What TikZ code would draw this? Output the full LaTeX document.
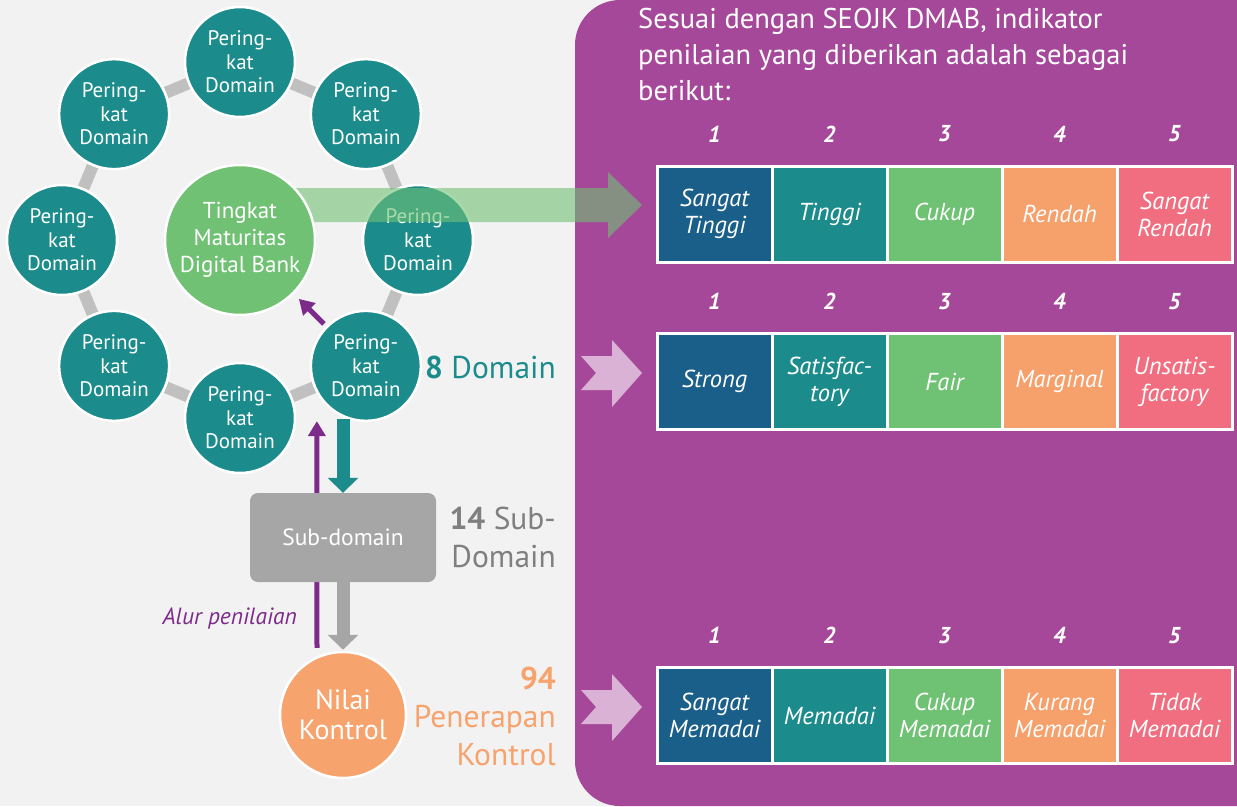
\documentclass[tikz,border=0pt]{standalone}
\usepackage{fontspec}
\setmainfont{PT Sans}
\usetikzlibrary{positioning,arrows.meta,backgrounds}

\definecolor{bggray}{HTML}{F2F2F2}
\definecolor{panelpurple}{HTML}{A64899}
\definecolor{dteal}{HTML}{1B8C8B}
\definecolor{dgreen}{HTML}{70C174}
\definecolor{nkorange}{HTML}{F6A36E}
\definecolor{subgray}{HTML}{A6A6A6}
\definecolor{ringgray}{HTML}{C0C0C0}
\definecolor{lblgray}{HTML}{7F7F7F}
\definecolor{flowpurple}{HTML}{7D2B8B}
\definecolor{chevpink}{HTML}{D9B2D6}
\definecolor{tabc1}{HTML}{1A5E8A}
\definecolor{tabc2}{HTML}{1B8C8B}
\definecolor{tabc3}{HTML}{6FC173}
\definecolor{tabc4}{HTML}{F6A06C}
\definecolor{tabc5}{HTML}{F06E80}

\tikzset{
ratingnode/.style={circle, fill=dteal, draw=white, line width=2.5pt, minimum size=110pt,
    inner sep=0pt, text=white, align=center, font=\fontsize{21}{23.5}\selectfont},
corenode/.style={circle, fill=dgreen, draw=white, line width=2.5pt, minimum size=150pt,
    inner sep=0pt, text=white, align=center, font=\fontsize{23}{27}\selectfont},
ctrlnode/.style={circle, fill=nkorange, draw=white, line width=2.5pt, minimum size=126pt,
    inner sep=0pt, text=white, align=center, font=\fontsize{28}{30}\selectfont},
subbox/.style={rectangle, rounded corners=8pt, fill=subgray, minimum width=186pt,
    minimum height=89pt, text=white, font=\fontsize{23.5}{26}\selectfont},
scalecell/.style={draw=white, line width=3pt, minimum width=115pt, minimum height=96pt,
    inner sep=0pt, text=white, align=center, font=\fontsize{24.5}{27}\selectfont\itshape},
numtxt/.style={inner sep=0pt, text=white, font=\fontsize{23}{26}\selectfont\bfseries\itshape},
cntlbl/.style={inner sep=0pt, align=right, font=\fontsize{31.5}{38}\selectfont},
headtxt/.style={inner sep=0pt, text=white, align=left, font=\fontsize{28.5}{36}\selectfont},
ringlink/.style={draw=ringgray, line width=12pt},
growarrow/.style={fill=dgreen, fill opacity=0.6},
rollup/.style={draw=flowpurple, line width=5pt, -{Triangle[width=17pt,length=15pt]}},
flowdown/.style={line width=13pt, -{Triangle[width=30pt,length=15pt]}},
chevron/.pic={\fill[chevpink] (0,-33) -- (30,0) -- (0,34) -- (0,17) -- (-31,17)
    -- (-16,0) -- (-31,-17) -- (0,-17) -- cycle;}
}

\begin{document}
\begin{tikzpicture}[x=1pt, y=-1pt]
\useasboundingbox (0,0) rectangle (1237,806);
\begin{scope}[on background layer]
  \fill[bggray] (0,0) rectangle (1237,806);
  \fill[panelpurple, rounded corners=45pt] (575,0) rectangle (1400,806);
\end{scope}

% ring of domains
\foreach \a in {0,45,...,315}
  \node[ratingnode] (d\a) at ([shift={(\a:178)}]240,240) {Pering-\\kat\\Domain};
\begin{scope}[on background layer]
  \draw[ringlink] (d0) -- (d45) -- (d90) -- (d135) -- (d180) -- (d225) -- (d270)
    -- (d315) -- (d0);
\end{scope}

% arrow to the first scale
\fill[growarrow] (290,188) -- (608,188) -- (608,172) -- (642,205) -- (608,238)
  -- (608,222) -- (290,222) -- cycle;
\node[corenode] (tmdb) at (240,240) {Tingkat\\Maturitas\\Digital Bank};
\draw[rollup, shorten <=3pt, shorten >=7pt] (d45) -- (tmdb);

% sub-domain and control
\node[subbox] (sub) at (343,537.5) {Sub-domain};
\node[ctrlnode] (nk) at (343,715) {Nilai\\Kontrol};
\draw[flowdown, draw=dteal, shorten <=-3pt] (d45.south -| sub.north) -- (sub.north);
\draw[flowdown, draw=subgray, shorten >=1pt] (sub.south) -- (nk.north);
\begin{scope}[on background layer]
  \draw[rollup, shorten <=3pt, shorten >=-1pt] ([xshift=-26pt]nk.north)
    -- ([xshift=-49pt]d45.south);
\end{scope}
\node[inner sep=0pt, text=flowpurple, anchor=east, font=\fontsize{23.5}{26}\selectfont\itshape]
  (alur) at (297,618) {Alur penilaian};

% counts
\node[cntlbl, text=dteal, anchor=east] (ndom) at (556,367) {\textbf{8} Domain};
\node[cntlbl, text=lblgray, anchor=east] (nsub) at (556,537) {\textbf{14} Sub-\\Domain};
\node[cntlbl, text=nkorange, anchor=east] (nctl) at (556,716) {\textbf{94}\\Penerapan\\Kontrol};

% scales
\node[headtxt, anchor=north west] (head) at (638,8)
  {Sesuai dengan SEOJK DMAB, indikator\\penilaian yang diberikan adalah sebagai\\berikut:};
\foreach \txt [count=\k] in {{Sangat\\Tinggi},Tinggi,Cukup,Rendah,{Sangat\\Rendah}}{
  \node[scalecell, fill=tabc\k] (ra\k) at (599.5+115*\k,214) {\txt};
  \node[numtxt, above=22pt of ra\k] (na\k) {\k};
}
\foreach \txt [count=\k] in {Strong,{Satisfac-\\tory},Fair,Marginal,{Unsatis-\\factory}}{
  \node[scalecell, fill=tabc\k] (rb\k) at (599.5+115*\k,381.5) {\txt};
  \node[numtxt, above=22pt of rb\k] (nb\k) {\k};
}
\foreach \txt [count=\k] in {{Sangat\\Memadai},Memadai,{Cukup\\Memadai},{Kurang\\Memadai},{Tidak\\Memadai}}{
  \node[scalecell, fill=tabc\k] (rc\k) at (599.5+115*\k,715.5) {\txt};
  \node[numtxt, above=22pt of rc\k] (nc\k) {\k};
}
\pic at (612,373) {chevron};
\pic at (612,707) {chevron};
\end{tikzpicture}
\end{document}
